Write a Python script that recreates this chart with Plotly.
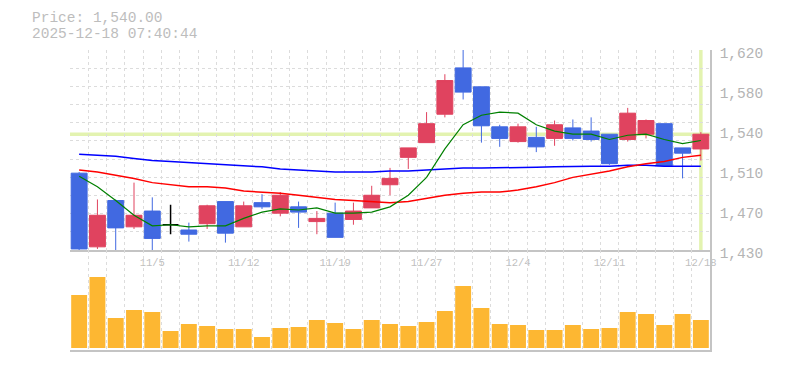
import plotly.graph_objects as go

# ---------------- data ----------------
dates = ["10/29", "10/30", "10/31", "11/4", "11/5", "11/6", "11/7", "11/10", "11/11", "11/12",
         "11/13", "11/14", "11/17", "11/18", "11/19", "11/20", "11/21", "11/25", "11/26", "11/27",
         "11/28", "12/1", "12/2", "12/3", "12/4", "12/5", "12/8", "12/9", "12/10", "12/11",
         "12/12", "12/15", "12/16", "12/17", "12/18"]
opens = [1503, 1433, 1477, 1452, 1467, 1454, 1449, 1455, 1476, 1452,
         1475, 1465, 1471, 1457, 1465, 1459, 1470, 1492, 1518, 1532,
         1559, 1603, 1585, 1547, 1533, 1537, 1536, 1546, 1543, 1540,
         1535, 1540, 1550, 1527, 1526]
highs = [1504, 1478, 1478, 1494, 1480, 1473, 1456, 1473, 1476, 1476,
         1483, 1485, 1476, 1467, 1475, 1475, 1491, 1508, 1527, 1561,
         1597, 1620, 1585, 1549, 1550, 1547, 1553, 1554, 1556, 1540,
         1565, 1554, 1550, 1527, 1542]
lows = [1430, 1431, 1430, 1450, 1430, 1445, 1438, 1450, 1437, 1452,
        1469, 1462, 1451, 1445, 1442, 1454, 1470, 1482, 1507, 1532,
        1556, 1573, 1532, 1528, 1532, 1523, 1529, 1534, 1533, 1511,
        1533, 1536, 1510, 1498, 1515]
closes = [1431, 1463, 1451, 1463, 1441, 1454, 1445, 1472, 1446, 1472,
          1471, 1482, 1466, 1460, 1442, 1467, 1482, 1498, 1527, 1550,
          1591, 1580, 1548, 1536, 1547, 1528, 1549, 1536, 1535, 1512,
          1560, 1553, 1510, 1522, 1540]
ma_short = [1500, 1490, 1477, 1463, 1453, 1454, 1452, 1453, 1453, 1460,
            1466, 1469, 1468, 1470, 1465, 1465, 1466, 1471, 1482, 1499,
            1526, 1549, 1558, 1561, 1560, 1549, 1543, 1540, 1540, 1535,
            1539, 1540, 1535, 1531, 1534]
ma_mid = [1506, 1504, 1501, 1498, 1494, 1492, 1490, 1490, 1489, 1486,
          1485, 1484, 1482, 1480, 1478, 1477, 1476, 1475, 1476, 1479,
          1482, 1484, 1485, 1485, 1487, 1490, 1494, 1499, 1502, 1505,
          1509, 1512, 1514, 1518, 1520]
ma_long = [1521, 1520, 1519, 1517, 1515, 1514, 1513, 1512, 1511, 1510.5,
           1509, 1507, 1506, 1505, 1504, 1504, 1504, 1505, 1505, 1506,
           1507, 1508, 1508, 1508, 1508, 1508.5, 1509, 1509.5, 1509.5, 1509.5,
           1510.5, 1510.5, 1509.5, 1509.5, 1509.5]
volumes = [53, 71, 30, 38, 36, 17, 24, 22, 19, 19,
           11, 20, 21, 28, 25, 19, 28, 24, 22, 26,
           37, 62, 40, 24, 23, 18, 18, 23, 19, 20,
           36, 34, 23, 34, 28]
price_ticks = [1430, 1468, 1506, 1544, 1582, 1620]
price_tick_labels = ["1,430", "1,470", "1,510", "1,540", "1,580", "1,620"]
header_price = "Price: 1,540.00"
header_time = "2025-12-18 07:40:44"

# ---------------- figure ----------------
n = len(dates)
xs = list(range(n))
label_idx = [i for i in xs if i % 5 == 4]

UP = "#E0435F"
DOWN = "#4169E1"
GRID = "#DCDCDC"
AXIS = "#C4C4C4"
HL = "#E3F3B0"
MONO = "Liberation Mono, DejaVu Sans Mono, monospace"

reg = [i for i in xs if opens[i] != closes[i]]
doji = [i for i in xs if opens[i] == closes[i]]

fig = go.Figure()

for vals, col, w in [(ma_long, "#0000FF", 1.5), (ma_mid, "#FF0000", 1.5), (ma_short, "#008000", 1.2)]:
    fig.add_trace(go.Scatter(x=xs, y=vals, mode="lines", line=dict(color=col, width=w),
                             hoverinfo="skip", showlegend=False))

fig.add_trace(go.Candlestick(
    x=[xs[i] for i in reg], open=[opens[i] for i in reg], high=[highs[i] for i in reg],
    low=[lows[i] for i in reg], close=[closes[i] for i in reg],
    increasing=dict(line=dict(color=UP, width=1), fillcolor=UP),
    decreasing=dict(line=dict(color=DOWN, width=1), fillcolor=DOWN),
    whiskerwidth=0, showlegend=False))
fig.add_trace(go.Candlestick(
    x=[xs[i] for i in doji], open=[opens[i] for i in doji], high=[highs[i] for i in doji],
    low=[lows[i] for i in doji], close=[closes[i] for i in doji],
    increasing=dict(line=dict(color="#000000", width=1.5), fillcolor="#000000"),
    decreasing=dict(line=dict(color="#000000", width=1.5), fillcolor="#000000"),
    whiskerwidth=0, showlegend=False))

fig.add_trace(go.Bar(x=xs, y=volumes, marker=dict(color="#FDB732", line=dict(width=0)),
                     width=0.87, xaxis="x2", yaxis="y2", hoverinfo="skip", showlegend=False))

# current price / current day highlights
fig.add_shape(type="line", xref="x", yref="paper", x0=xs[-1], x1=xs[-1], y0=1/3, y1=1,
              line=dict(color=HL, width=3.5), layer="between")
fig.add_shape(type="line", xref="paper", yref="y", x0=0, x1=1, y0=closes[-1], y1=closes[-1],
              line=dict(color=HL, width=3.5), layer="between")

minor_x = dict(tick0=-0.5, dtick=1, showgrid=True, gridcolor=GRID, griddash="3px,3px",
               gridwidth=1, ticks="")

fig.update_layout(
    width=777, height=362,
    margin=dict(l=62, r=75, t=42, b=20, autoexpand=False),
    paper_bgcolor="white", plot_bgcolor="white",
    boxgap=0.13, boxgroupgap=0, boxmode="overlay",
    xaxis=dict(domain=[0, 1], anchor="y", range=[-0.5, n - 0.5], rangeslider=dict(visible=False),
               tickmode="array", tickvals=label_idx, ticktext=[dates[i] for i in label_idx],
               showgrid=False, zeroline=False, showline=True, linecolor=AXIS, linewidth=1.5,
               ticks="", ticklabelstandoff=2, automargin=False,
               tickfont=dict(family=MONO, size=10.5, color="#C0C0C0"), minor=minor_x),
    yaxis=dict(domain=[1/3, 1], anchor="x", side="right", range=[1430, 1620],
               tickmode="array", tickvals=price_ticks, ticktext=price_tick_labels,
               showgrid=False, zeroline=False, showline=True, linecolor=AXIS, linewidth=1.5,
               ticks="", ticklabelstandoff=5, ticklabelshift=3, automargin=False,
               tickfont=dict(family=MONO, size=14.5, color="#B4B4B4"),
               minor=dict(tick0=1430, dtick=190 / 11, showgrid=True, gridcolor=GRID,
                          griddash="3px,3px", gridwidth=1, ticks="")),
    xaxis2=dict(domain=[0, 1], anchor="y2", range=[-0.5, n - 0.5], matches="x",
                showticklabels=False, showgrid=False, zeroline=False, showline=True,
                linecolor=AXIS, linewidth=1.5, ticks="", minor=minor_x, automargin=False),
    yaxis2=dict(domain=[0, 1/3], anchor="x2", side="right", range=[-2, 98],
                showticklabels=False, showgrid=False, zeroline=False, showline=True,
                linecolor=AXIS, linewidth=1.5, ticks="", automargin=False),
    annotations=[
        dict(text=header_price, xref="paper", yref="paper", x=-40 / 640, y=(350 - 18) / 300,
             xanchor="left", yanchor="middle", showarrow=False,
             font=dict(family=MONO, size=14.5, color="#BDBDBD")),
        dict(text=header_time, xref="paper", yref="paper", x=-40 / 640, y=(350 - 34) / 300,
             xanchor="left", yanchor="middle", showarrow=False,
             font=dict(family=MONO, size=14.5, color="#BDBDBD")),
    ],
)

fig.write_html("out.html")
